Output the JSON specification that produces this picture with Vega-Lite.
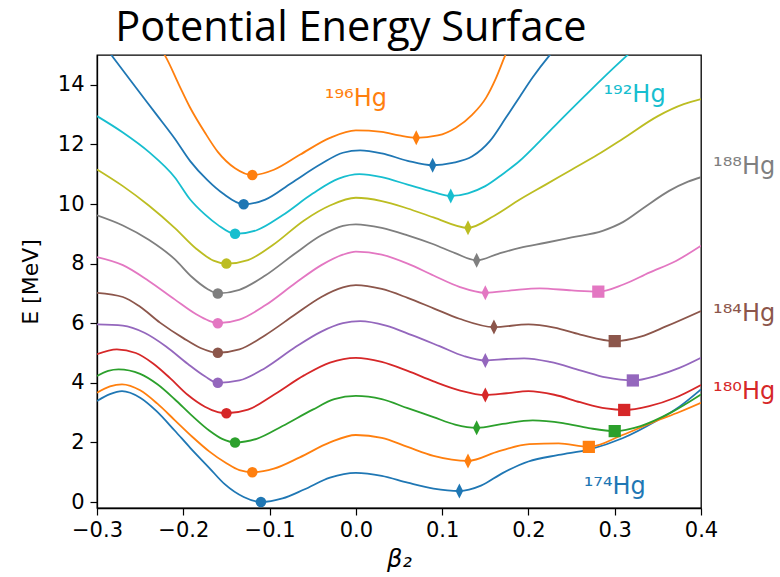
{
  "$schema": "https://vega.github.io/schema/vega-lite/v6.json",
  "width": 604,
  "height": 453,
  "autosize": {"type": "none"},
  "padding": {"left": 97, "top": 55, "right": 79, "bottom": 69},
  "background": "white",
  "config": {
    "view": {"stroke": "black", "strokeWidth": 1.3},
    "axis": {
      "grid": false,
      "domainColor": "black",
      "domainWidth": 1.3,
      "tickColor": "black",
      "tickWidth": 1.2,
      "tickSize": 7,
      "labelColor": "black",
      "titleColor": "black",
      "labelFont": "DejaVu Sans",
      "titleFont": "DejaVu Sans",
      "labelFontSize": 21,
      "titleFontSize": 21,
      "titleFontWeight": "normal",
      "labelOverlap": false,
      "labelFlush": false,
      "labelBound": false
    }
  },
  "title": {
    "text": "Potential Energy Surface",
    "font": "Open Sans",
    "fontSize": 41.5,
    "fontWeight": "normal",
    "color": "black",
    "anchor": "middle",
    "frame": "group",
    "dx": -48,
    "dy": 42,
    "baseline": "alphabetic",
    "offset": 15
  },
  "datasets": {
    "curves": [
      {"n":"174","b":-0.3,"e":3.39},{"n":"174","b":-0.285,"e":3.62},{"n":"174","b":-0.271,"e":3.72},{"n":"174","b":-0.25,"e":3.5},{"n":"174","b":-0.231,"e":3.05},{"n":"174","b":-0.21,"e":2.4},{"n":"174","b":-0.192,"e":1.82},{"n":"174","b":-0.17,"e":1.15},{"n":"174","b":-0.152,"e":0.6},{"n":"174","b":-0.13,"e":0.17},{"n":"174","b":-0.11,"e":0.0},{"n":"174","b":-0.085,"e":0.12},{"n":"174","b":-0.06,"e":0.42},{"n":"174","b":-0.03,"e":0.82},{"n":"174","b":0.0,"e":0.98},{"n":"174","b":0.03,"e":0.88},{"n":"174","b":0.06,"e":0.65},{"n":"174","b":0.09,"e":0.45},{"n":"174","b":0.12,"e":0.37},{"n":"174","b":0.145,"e":0.55},{"n":"174","b":0.17,"e":0.97},{"n":"174","b":0.2,"e":1.36},{"n":"174","b":0.235,"e":1.58},{"n":"174","b":0.271,"e":1.77},{"n":"174","b":0.309,"e":2.14},{"n":"174","b":0.348,"e":2.72},{"n":"174","b":0.375,"e":3.2},{"n":"174","b":0.4,"e":3.78},

      {"n":"176","b":-0.3,"e":3.67},{"n":"176","b":-0.285,"e":3.88},{"n":"176","b":-0.271,"e":3.95},{"n":"176","b":-0.25,"e":3.75},{"n":"176","b":-0.23,"e":3.3},{"n":"176","b":-0.21,"e":2.75},{"n":"176","b":-0.19,"e":2.2},{"n":"176","b":-0.17,"e":1.7},{"n":"176","b":-0.15,"e":1.3},{"n":"176","b":-0.135,"e":1.07},{"n":"176","b":-0.12,"e":1.0},{"n":"176","b":-0.095,"e":1.12},{"n":"176","b":-0.065,"e":1.5},{"n":"176","b":-0.03,"e":2.0},{"n":"176","b":0.0,"e":2.25},{"n":"176","b":0.03,"e":2.15},{"n":"176","b":0.06,"e":1.85},{"n":"176","b":0.09,"e":1.55},{"n":"176","b":0.13,"e":1.38},{"n":"176","b":0.166,"e":1.71},{"n":"176","b":0.201,"e":1.94},{"n":"176","b":0.235,"e":1.97},{"n":"176","b":0.27,"e":1.85},{"n":"176","b":0.309,"e":2.25},{"n":"176","b":0.348,"e":2.72},{"n":"176","b":0.375,"e":3.02},{"n":"176","b":0.4,"e":3.33},

      {"n":"178","b":-0.3,"e":4.23},{"n":"178","b":-0.287,"e":4.4},{"n":"178","b":-0.275,"e":4.45},{"n":"178","b":-0.25,"e":4.3},{"n":"178","b":-0.23,"e":3.95},{"n":"178","b":-0.21,"e":3.45},{"n":"178","b":-0.19,"e":2.9},{"n":"178","b":-0.17,"e":2.4},{"n":"178","b":-0.155,"e":2.12},{"n":"178","b":-0.14,"e":2.0},{"n":"178","b":-0.115,"e":2.12},{"n":"178","b":-0.085,"e":2.55},{"n":"178","b":-0.05,"e":3.1},{"n":"178","b":-0.025,"e":3.45},{"n":"178","b":0.0,"e":3.56},{"n":"178","b":0.03,"e":3.45},{"n":"178","b":0.06,"e":3.15},{"n":"178","b":0.09,"e":2.85},{"n":"178","b":0.115,"e":2.6},{"n":"178","b":0.14,"e":2.49},{"n":"178","b":0.17,"e":2.62},{"n":"178","b":0.205,"e":2.74},{"n":"178","b":0.24,"e":2.65},{"n":"178","b":0.27,"e":2.48},{"n":"178","b":0.3,"e":2.38},{"n":"178","b":0.33,"e":2.55},{"n":"178","b":0.365,"e":3.0},{"n":"178","b":0.4,"e":3.61},

      {"n":"180","b":-0.3,"e":4.96},{"n":"180","b":-0.277,"e":5.12},{"n":"180","b":-0.255,"e":5.0},{"n":"180","b":-0.235,"e":4.65},{"n":"180","b":-0.215,"e":4.15},{"n":"180","b":-0.195,"e":3.6},{"n":"180","b":-0.175,"e":3.2},{"n":"180","b":-0.16,"e":3.02},{"n":"180","b":-0.15,"e":2.98},{"n":"180","b":-0.125,"e":3.1},{"n":"180","b":-0.095,"e":3.6},{"n":"180","b":-0.06,"e":4.25},{"n":"180","b":-0.03,"e":4.68},{"n":"180","b":0.0,"e":4.84},{"n":"180","b":0.03,"e":4.7},{"n":"180","b":0.06,"e":4.4},{"n":"180","b":0.09,"e":4.05},{"n":"180","b":0.12,"e":3.75},{"n":"180","b":0.15,"e":3.59},{"n":"180","b":0.175,"e":3.65},{"n":"180","b":0.2,"e":3.72},{"n":"180","b":0.23,"e":3.6},{"n":"180","b":0.26,"e":3.35},{"n":"180","b":0.29,"e":3.14},{"n":"180","b":0.311,"e":3.09},{"n":"180","b":0.34,"e":3.22},{"n":"180","b":0.37,"e":3.5},{"n":"180","b":0.4,"e":3.93},

      {"n":"182","b":-0.3,"e":5.96},{"n":"182","b":-0.27,"e":5.92},{"n":"182","b":-0.245,"e":5.68},{"n":"182","b":-0.22,"e":5.22},{"n":"182","b":-0.195,"e":4.64},{"n":"182","b":-0.175,"e":4.22},{"n":"182","b":-0.16,"e":4.0},{"n":"182","b":-0.135,"e":4.08},{"n":"182","b":-0.105,"e":4.5},{"n":"182","b":-0.07,"e":5.2},{"n":"182","b":-0.04,"e":5.72},{"n":"182","b":-0.015,"e":6.0},{"n":"182","b":0.005,"e":6.07},{"n":"182","b":0.035,"e":5.92},{"n":"182","b":0.065,"e":5.6},{"n":"182","b":0.097,"e":5.23},{"n":"182","b":0.125,"e":4.9},{"n":"182","b":0.15,"e":4.75},{"n":"182","b":0.175,"e":4.8},{"n":"182","b":0.195,"e":4.82},{"n":"182","b":0.225,"e":4.7},{"n":"182","b":0.26,"e":4.42},{"n":"182","b":0.29,"e":4.18},{"n":"182","b":0.321,"e":4.08},{"n":"182","b":0.35,"e":4.25},{"n":"182","b":0.375,"e":4.5},{"n":"182","b":0.4,"e":4.84},

      {"n":"184","b":-0.3,"e":7.02},{"n":"184","b":-0.27,"e":6.88},{"n":"184","b":-0.25,"e":6.55},{"n":"184","b":-0.227,"e":6.02},{"n":"184","b":-0.2,"e":5.5},{"n":"184","b":-0.18,"e":5.17},{"n":"184","b":-0.16,"e":5.01},{"n":"184","b":-0.135,"e":5.12},{"n":"184","b":-0.105,"e":5.6},{"n":"184","b":-0.07,"e":6.3},{"n":"184","b":-0.04,"e":6.88},{"n":"184","b":-0.015,"e":7.2},{"n":"184","b":0.0,"e":7.28},{"n":"184","b":0.03,"e":7.15},{"n":"184","b":0.06,"e":6.85},{"n":"184","b":0.09,"e":6.5},{"n":"184","b":0.12,"e":6.15},{"n":"184","b":0.16,"e":5.87},{"n":"184","b":0.2,"e":5.96},{"n":"184","b":0.23,"e":5.85},{"n":"184","b":0.26,"e":5.62},{"n":"184","b":0.3,"e":5.4},{"n":"184","b":0.33,"e":5.55},{"n":"184","b":0.36,"e":5.9},{"n":"184","b":0.4,"e":6.41},

      {"n":"186","b":-0.3,"e":8.22},{"n":"186","b":-0.27,"e":7.95},{"n":"186","b":-0.24,"e":7.42},{"n":"186","b":-0.21,"e":6.8},{"n":"186","b":-0.185,"e":6.3},{"n":"186","b":-0.17,"e":6.08},{"n":"186","b":-0.16,"e":6.0},{"n":"186","b":-0.135,"e":6.12},{"n":"186","b":-0.105,"e":6.6},{"n":"186","b":-0.07,"e":7.35},{"n":"186","b":-0.04,"e":7.95},{"n":"186","b":-0.015,"e":8.3},{"n":"186","b":0.0,"e":8.4},{"n":"186","b":0.03,"e":8.3},{"n":"186","b":0.06,"e":8.0},{"n":"186","b":0.09,"e":7.6},{"n":"186","b":0.12,"e":7.22},{"n":"186","b":0.15,"e":7.02},{"n":"186","b":0.18,"e":7.1},{"n":"186","b":0.213,"e":7.17},{"n":"186","b":0.25,"e":7.1},{"n":"186","b":0.281,"e":7.06},{"n":"186","b":0.31,"e":7.3},{"n":"186","b":0.34,"e":7.7},{"n":"186","b":0.371,"e":8.09},{"n":"186","b":0.4,"e":8.6},

      {"n":"188","b":-0.3,"e":9.62},{"n":"188","b":-0.27,"e":9.28},{"n":"188","b":-0.24,"e":8.8},{"n":"188","b":-0.21,"e":8.15},{"n":"188","b":-0.19,"e":7.55},{"n":"188","b":-0.172,"e":7.15},{"n":"188","b":-0.16,"e":7.0},{"n":"188","b":-0.135,"e":7.12},{"n":"188","b":-0.105,"e":7.6},{"n":"188","b":-0.07,"e":8.35},{"n":"188","b":-0.04,"e":8.95},{"n":"188","b":-0.015,"e":9.27},{"n":"188","b":0.0,"e":9.32},{"n":"188","b":0.03,"e":9.2},{"n":"188","b":0.06,"e":8.95},{"n":"188","b":0.09,"e":8.65},{"n":"188","b":0.115,"e":8.35},{"n":"188","b":0.14,"e":8.11},{"n":"188","b":0.165,"e":8.33},{"n":"188","b":0.19,"e":8.53},{"n":"188","b":0.22,"e":8.7},{"n":"188","b":0.25,"e":8.88},{"n":"188","b":0.286,"e":9.1},{"n":"188","b":0.31,"e":9.4},{"n":"188","b":0.335,"e":9.9},{"n":"188","b":0.363,"e":10.44},{"n":"188","b":0.385,"e":10.75},{"n":"188","b":0.4,"e":10.9},

      {"n":"190","b":-0.3,"e":11.16},{"n":"190","b":-0.27,"e":10.6},{"n":"190","b":-0.24,"e":9.95},{"n":"190","b":-0.21,"e":9.2},{"n":"190","b":-0.185,"e":8.5},{"n":"190","b":-0.165,"e":8.1},{"n":"190","b":-0.15,"e":8.0},{"n":"190","b":-0.125,"e":8.12},{"n":"190","b":-0.095,"e":8.65},{"n":"190","b":-0.06,"e":9.45},{"n":"190","b":-0.03,"e":9.95},{"n":"190","b":0.0,"e":10.21},{"n":"190","b":0.03,"e":10.1},{"n":"190","b":0.06,"e":9.85},{"n":"190","b":0.09,"e":9.55},{"n":"190","b":0.13,"e":9.2},{"n":"190","b":0.16,"e":9.6},{"n":"190","b":0.19,"e":10.15},{"n":"190","b":0.22,"e":10.65},{"n":"190","b":0.25,"e":11.15},{"n":"190","b":0.28,"e":11.65},{"n":"190","b":0.31,"e":12.2},{"n":"190","b":0.35,"e":12.95},{"n":"190","b":0.38,"e":13.35},{"n":"190","b":0.4,"e":13.52},

      {"n":"192","b":-0.3,"e":12.95},{"n":"192","b":-0.27,"e":12.4},{"n":"192","b":-0.24,"e":11.75},{"n":"192","b":-0.21,"e":10.9},{"n":"192","b":-0.192,"e":10.15},{"n":"192","b":-0.175,"e":9.65},{"n":"192","b":-0.16,"e":9.3},{"n":"192","b":-0.14,"e":9.0},{"n":"192","b":-0.115,"e":9.12},{"n":"192","b":-0.085,"e":9.62},{"n":"192","b":-0.05,"e":10.35},{"n":"192","b":-0.02,"e":10.85},{"n":"192","b":0.004,"e":11.0},{"n":"192","b":0.03,"e":10.9},{"n":"192","b":0.06,"e":10.65},{"n":"192","b":0.09,"e":10.4},{"n":"192","b":0.11,"e":10.27},{"n":"192","b":0.13,"e":10.36},{"n":"192","b":0.15,"e":10.6},{"n":"192","b":0.17,"e":11.0},{"n":"192","b":0.19,"e":11.45},{"n":"192","b":0.213,"e":12.1},{"n":"192","b":0.24,"e":12.9},{"n":"192","b":0.271,"e":13.79},{"n":"192","b":0.3,"e":14.6},{"n":"192","b":0.33,"e":15.4},

      {"n":"194","b":-0.3,"e":15.65},{"n":"194","b":-0.281,"e":14.91},{"n":"194","b":-0.26,"e":14.1},{"n":"194","b":-0.231,"e":13.0},{"n":"194","b":-0.21,"e":12.2},{"n":"194","b":-0.192,"e":11.44},{"n":"194","b":-0.172,"e":10.8},{"n":"194","b":-0.154,"e":10.35},{"n":"194","b":-0.13,"e":9.99},{"n":"194","b":-0.105,"e":10.15},{"n":"194","b":-0.075,"e":10.7},{"n":"194","b":-0.04,"e":11.35},{"n":"194","b":-0.015,"e":11.72},{"n":"194","b":0.005,"e":11.8},{"n":"194","b":0.03,"e":11.7},{"n":"194","b":0.06,"e":11.45},{"n":"194","b":0.089,"e":11.3},{"n":"194","b":0.112,"e":11.38},{"n":"194","b":0.135,"e":11.6},{"n":"194","b":0.155,"e":12.1},{"n":"194","b":0.174,"e":12.9},{"n":"194","b":0.19,"e":13.6},{"n":"194","b":0.205,"e":14.25},{"n":"194","b":0.224,"e":14.97},{"n":"194","b":0.24,"e":15.5},

      {"n":"196","b":-0.24,"e":15.65},{"n":"196","b":-0.221,"e":14.97},{"n":"196","b":-0.205,"e":14.0},{"n":"196","b":-0.192,"e":13.23},{"n":"196","b":-0.175,"e":12.4},{"n":"196","b":-0.16,"e":11.75},{"n":"196","b":-0.14,"e":11.2},{"n":"196","b":-0.12,"e":10.97},{"n":"196","b":-0.095,"e":11.15},{"n":"196","b":-0.065,"e":11.65},{"n":"196","b":-0.03,"e":12.22},{"n":"196","b":0.0,"e":12.47},{"n":"196","b":0.03,"e":12.42},{"n":"196","b":0.05,"e":12.3},{"n":"196","b":0.07,"e":12.22},{"n":"196","b":0.095,"e":12.3},{"n":"196","b":0.116,"e":12.56},{"n":"196","b":0.135,"e":13.0},{"n":"196","b":0.151,"e":13.57},{"n":"196","b":0.162,"e":14.2},{"n":"196","b":0.172,"e":14.91},{"n":"196","b":0.182,"e":15.6}
    ],
    "markers": [
      {"n":"174","m":"o","b":-0.11,"e":0.0},{"n":"176","m":"o","b":-0.12,"e":1.0},{"n":"178","m":"o","b":-0.14,"e":2.0},{"n":"180","m":"o","b":-0.15,"e":2.98},{"n":"182","m":"o","b":-0.16,"e":4.0},{"n":"184","m":"o","b":-0.16,"e":5.01},{"n":"186","m":"o","b":-0.16,"e":6.0},{"n":"188","m":"o","b":-0.16,"e":7.0},{"n":"190","m":"o","b":-0.15,"e":8.0},{"n":"192","m":"o","b":-0.14,"e":9.0},{"n":"194","m":"o","b":-0.13,"e":9.99},{"n":"196","m":"o","b":-0.12,"e":10.97},
      {"n":"174","m":"d","b":0.12,"e":0.37},{"n":"176","m":"d","b":0.13,"e":1.38},{"n":"178","m":"d","b":0.14,"e":2.49},{"n":"180","m":"d","b":0.15,"e":3.59},{"n":"182","m":"d","b":0.15,"e":4.75},{"n":"184","m":"d","b":0.16,"e":5.87},{"n":"186","m":"d","b":0.15,"e":7.02},{"n":"188","m":"d","b":0.14,"e":8.11},{"n":"190","m":"d","b":0.13,"e":9.2},{"n":"192","m":"d","b":0.11,"e":10.27},{"n":"194","m":"d","b":0.089,"e":11.3},{"n":"196","m":"d","b":0.07,"e":12.22},
      {"n":"176","m":"s","b":0.27,"e":1.85},{"n":"178","m":"s","b":0.3,"e":2.38},{"n":"180","m":"s","b":0.311,"e":3.09},{"n":"182","m":"s","b":0.321,"e":4.08},{"n":"184","m":"s","b":0.3,"e":5.4},{"n":"186","m":"s","b":0.281,"e":7.06}
    ],
    "labels": [
      {"n":"196","t":"¹⁹⁶Hg","b":0.0,"e":13.28},
      {"n":"192","t":"¹⁹²Hg","b":0.323,"e":13.42},
      {"n":"188","t":"¹⁸⁸Hg","b":0.45,"e":11.0},
      {"n":"184","t":"¹⁸⁴Hg","b":0.45,"e":6.07},
      {"n":"180","t":"¹⁸⁰Hg","b":0.45,"e":3.45},
      {"n":"174","t":"¹⁷⁴Hg","b":0.3,"e":0.26}
    ]
  },
  "encoding": {
    "x": {
      "field": "b", "type": "quantitative",
      "scale": {"domain": [-0.3, 0.4], "nice": false, "zero": false},
      "axis": {"values": [-0.3, -0.2, -0.1, 0.0, 0.1, 0.2, 0.3, 0.4], "format": ".1f", "title": "β₂", "titleFontStyle": "italic", "titleFontSize": 24, "labelPadding": 4, "titlePadding": 7}
    },
    "y": {
      "field": "e", "type": "quantitative",
      "scale": {"domain": [-0.2, 15], "nice": false, "zero": false},
      "axis": {"values": [0, 2, 4, 6, 8, 10, 12, 14], "format": "d", "title": "E [MeV]", "titleFontSize": 22, "labelPadding": 6, "titlePadding": 15}
    },
    "color": {
      "field": "n", "type": "nominal",
      "scale": {
        "domain": ["174","176","178","180","182","184","186","188","190","192","194","196"],
        "range": ["#1f77b4","#ff7f0e","#2ca02c","#d62728","#9467bd","#8c564b","#e377c2","#7f7f7f","#bcbd22","#17becf","#1f77b4","#ff7f0e"]
      },
      "legend": null
    }
  },
  "layer": [
    {
      "data": {"name": "curves"},
      "mark": {"type": "line", "clip": true, "interpolate": "monotone", "strokeWidth": 1.8}
    },
    {
      "data": {"name": "markers"},
      "transform": [{"filter": "datum.m === 'o'"}],
      "mark": {"type": "point", "shape": "circle", "filled": true, "size": 110, "opacity": 1}
    },
    {
      "data": {"name": "markers"},
      "transform": [{"filter": "datum.m === 'd'"}],
      "mark": {"type": "point", "shape": "M0,-1L0.5,0L0,1L-0.5,0Z", "filled": true, "size": 225, "opacity": 1}
    },
    {
      "data": {"name": "markers"},
      "transform": [{"filter": "datum.m === 's'"}],
      "mark": {"type": "point", "shape": "square", "filled": true, "size": 150, "opacity": 1}
    },
    {
      "data": {"name": "labels"},
      "mark": {"type": "text", "font": "DejaVu Sans", "fontSize": 24, "align": "center", "baseline": "alphabetic"},
      "encoding": {"text": {"field": "t"}}
    }
  ]
}
